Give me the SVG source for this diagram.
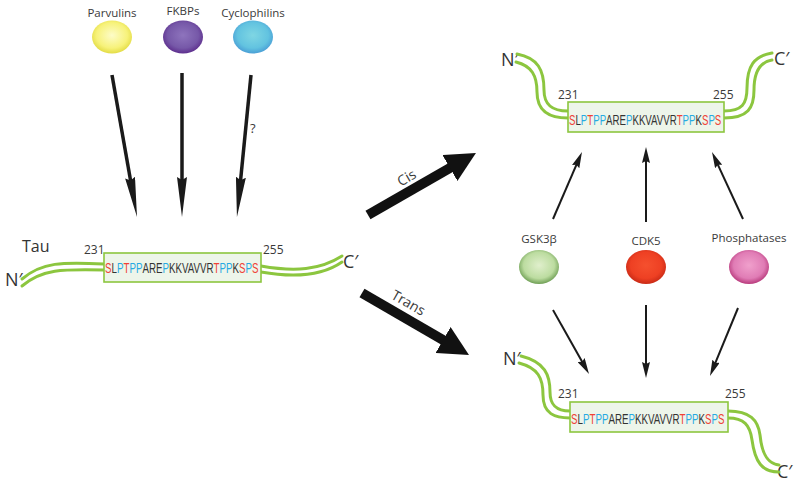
<svg xmlns="http://www.w3.org/2000/svg" width="800" height="486" viewBox="0 0 800 486">
<style>
.lbl{font-family:"Open Sans","Liberation Sans",sans-serif;font-size:11.5px;fill:#3a3a3a}
.num{font-family:"Open Sans","Liberation Sans",sans-serif;font-size:12px;fill:#3a3a3a}
.end{font-family:"Open Sans","Liberation Sans",sans-serif;font-size:18px;fill:#333}
.seq{font-family:"Liberation Sans",sans-serif;font-size:14px;fill:#333}
.r{fill:#ef4136}.b{fill:#27aae1}
.box{fill:#edf5ea;stroke:#8cc63f;stroke-width:1.6}
.chain{fill:none;stroke:#8cc63f;stroke-width:3;stroke-linecap:round}
.big{stroke:#1a1a1a;stroke-width:3.5;fill:none}
.thick{stroke:#111;stroke-width:10;fill:none}
.thin{stroke:#1a1a1a;stroke-width:2;fill:none}
</style>
<defs>
<marker id="hBig" viewBox="0 0 40 10" refX="10" refY="5" markerWidth="40" markerHeight="10" markerUnits="userSpaceOnUse" orient="auto"><path d="M0,0 L40,5 L0,10 L3,5 z" fill="#1a1a1a"/></marker>
<marker id="hThick" viewBox="0 0 30 30" refX="10" refY="15" markerWidth="30" markerHeight="30" markerUnits="userSpaceOnUse" orient="auto"><path d="M0,0 L30,15 L0,30 z" fill="#111"/></marker>
<marker id="hThin" viewBox="0 0 16 8" refX="6" refY="4" markerWidth="16" markerHeight="8" markerUnits="userSpaceOnUse" orient="auto"><path d="M0,0 L16,4 L0,8 L2,4 z" fill="#1a1a1a"/></marker>
<radialGradient id="gY" cx="0.5" cy="0.45" r="0.55"><stop offset="0" stop-color="#fdfcc8"/><stop offset="0.7" stop-color="#f7f27a"/><stop offset="1" stop-color="#e3dc45"/></radialGradient>
<radialGradient id="gP" cx="0.5" cy="0.45" r="0.55"><stop offset="0" stop-color="#8e74bd"/><stop offset="0.7" stop-color="#7658a8"/><stop offset="1" stop-color="#5e2f8e"/></radialGradient>
<radialGradient id="gC" cx="0.5" cy="0.45" r="0.55"><stop offset="0" stop-color="#7fd6e3"/><stop offset="0.7" stop-color="#62c3e0"/><stop offset="1" stop-color="#4a9fd6"/></radialGradient>
<radialGradient id="gG" cx="0.5" cy="0.45" r="0.55"><stop offset="0" stop-color="#e0efcc"/><stop offset="0.7" stop-color="#bcdca0"/><stop offset="1" stop-color="#6f9f55"/></radialGradient>
<radialGradient id="gR" cx="0.5" cy="0.45" r="0.55"><stop offset="0" stop-color="#f5502e"/><stop offset="0.7" stop-color="#ee4023"/><stop offset="1" stop-color="#c92a16"/></radialGradient>
<radialGradient id="gM" cx="0.5" cy="0.45" r="0.55"><stop offset="0" stop-color="#f0a0cc"/><stop offset="0.7" stop-color="#e07cb5"/><stop offset="1" stop-color="#b83a7c"/></radialGradient>
</defs>
<rect width="800" height="486" fill="#fff"/>

<g id="parvulins"><text class="lbl" x="112" y="17" text-anchor="middle">Parvulins</text><ellipse cx="112" cy="37" rx="20" ry="16.5" fill="url(#gY)"/></g>
<g id="fkbps"><text class="lbl" x="183" y="15" text-anchor="middle">FKBPs</text><ellipse cx="183" cy="37" rx="20" ry="16.5" fill="url(#gP)"/></g>
<g id="cyclophilins"><text class="lbl" x="253" y="17" text-anchor="middle">Cyclophilins</text><ellipse cx="253" cy="37" rx="20" ry="16.5" fill="url(#gC)"/></g>

<g id="tau-left">
<text class="end" x="22" y="252" style="font-size:16px">Tau</text>
<text class="end" x="5" y="286">N′</text>
<text class="end" x="343" y="268">C′</text>
<path class="chain" d="M22,279 C42,262 62,262 104,264"/>
<path class="chain" d="M22,286 C42,269 62,269 104,270"/>
<path class="chain" d="M261,266 C295,272 320,270 342,256"/>
<path class="chain" d="M261,272 C295,278 322,276 342,262"/>
<rect class="box" x="104" y="253" width="157" height="29"/>
<text class="num" x="84" y="254">231</text>
<text class="num" x="263" y="254">255</text>
<text class="seq" transform="translate(105,273) scale(0.697,1)" x="0" y="0"><tspan class="r">S</tspan>L<tspan class="b">P</tspan><tspan class="r">T</tspan><tspan class="b">PP</tspan>ARE<tspan class="b">P</tspan>KKVAVVR<tspan class="r">T</tspan><tspan class="b">PP</tspan>K<tspan class="r">S</tspan><tspan class="b">P</tspan><tspan class="r">S</tspan></text>
</g>

<g id="tau-cis">
<text class="end" x="501" y="66">N′</text>
<text class="end" x="774" y="65">C′</text>
<path class="chain" d="M517,54 C538,58 544,70 544,90 C544,105 552,111 568,111"/>
<path class="chain" d="M516,62 C532,66 537,76 537,92 C537,112 550,118 568,118"/>
<path class="chain" d="M724,111 C742,111 747,104 747,88 C747,66 754,56 772,53"/>
<path class="chain" d="M724,118 C748,118 754,108 754,90 C754,72 760,62 772,60"/>
<rect class="box" x="568" y="102" width="156" height="30"/>
<text class="num" x="558" y="99">231</text>
<text class="num" x="713" y="99">255</text>
<text class="seq" transform="translate(569,125) scale(0.692,1)" x="0" y="0"><tspan class="r">S</tspan>L<tspan class="b">P</tspan><tspan class="r">T</tspan><tspan class="b">PP</tspan>ARE<tspan class="b">P</tspan>KKVAVVR<tspan class="r">T</tspan><tspan class="b">PP</tspan>K<tspan class="r">S</tspan><tspan class="b">P</tspan><tspan class="r">S</tspan></text>
</g>

<g id="tau-trans">
<text class="end" x="503" y="365">N′</text>
<text class="end" x="777" y="478">C′</text>
<path class="chain" d="M521,356 C545,362 550,375 550,392 C550,405 556,411 570,411"/>
<path class="chain" d="M519,363 C538,368 543,378 543,395 C543,414 555,418 570,418"/>
<path class="chain" d="M728,411 C750,411 758,420 760,435 C762,455 768,464 779,465"/>
<path class="chain" d="M728,418 C744,418 750,425 752,440 C755,462 762,472 779,472"/>
<rect class="box" x="570" y="402" width="158" height="30"/>
<text class="num" x="558" y="398">231</text>
<text class="num" x="725" y="398">255</text>
<text class="seq" transform="translate(571,424) scale(0.697,1)" x="0" y="0"><tspan class="r">S</tspan>L<tspan class="b">P</tspan><tspan class="r">T</tspan><tspan class="b">PP</tspan>ARE<tspan class="b">P</tspan>KKVAVVR<tspan class="r">T</tspan><tspan class="b">PP</tspan>K<tspan class="r">S</tspan><tspan class="b">P</tspan><tspan class="r">S</tspan></text>
</g>

<g id="gsk3b"><text class="lbl" x="539" y="243" text-anchor="middle">GSK3β</text><ellipse cx="539" cy="267" rx="20" ry="17" fill="url(#gG)"/></g>
<g id="cdk5"><text class="lbl" x="646" y="245" text-anchor="middle">CDK5</text><ellipse cx="646" cy="267" rx="20" ry="17" fill="url(#gR)"/></g>
<g id="phosphatases"><text class="lbl" x="749" y="242" text-anchor="middle">Phosphatases</text><ellipse cx="749" cy="267" rx="20" ry="17" fill="url(#gM)"/></g>

<g id="connectors">
<line class="big" x1="112" y1="75" x2="131.8" y2="187.5" marker-end="url(#hBig)"/>
<line class="big" x1="182" y1="73" x2="182" y2="187" marker-end="url(#hBig)"/>
<line class="big" x1="251" y1="75" x2="239.9" y2="187.1" marker-end="url(#hBig)"/>
<text class="lbl" x="250" y="133" style="font-size:13px">?</text>
<line class="thick" x1="368" y1="215" x2="458.6" y2="163" marker-end="url(#hThick)"/>
<line class="thick" x1="362" y1="293" x2="451.7" y2="345" marker-end="url(#hThick)"/>
<text class="lbl" style="font-size:14px" transform="translate(409,182) rotate(-30)" text-anchor="middle">Cis</text>
<text class="lbl" style="font-size:14px" transform="translate(406,307) rotate(30)" text-anchor="middle">Trans</text>
<line class="thin" x1="553" y1="219" x2="578" y2="161.2" marker-end="url(#hThin)"/>
<line class="thin" x1="646" y1="222" x2="646" y2="157" marker-end="url(#hThin)"/>
<line class="thin" x1="743" y1="219" x2="716.2" y2="161.1" marker-end="url(#hThin)"/>
<line class="thin" x1="553" y1="310" x2="584.1" y2="365.3" marker-end="url(#hThin)"/>
<line class="thin" x1="646" y1="305" x2="646" y2="368" marker-end="url(#hThin)"/>
<line class="thin" x1="738" y1="308" x2="713.8" y2="366.7" marker-end="url(#hThin)"/>
</g>
</svg>
